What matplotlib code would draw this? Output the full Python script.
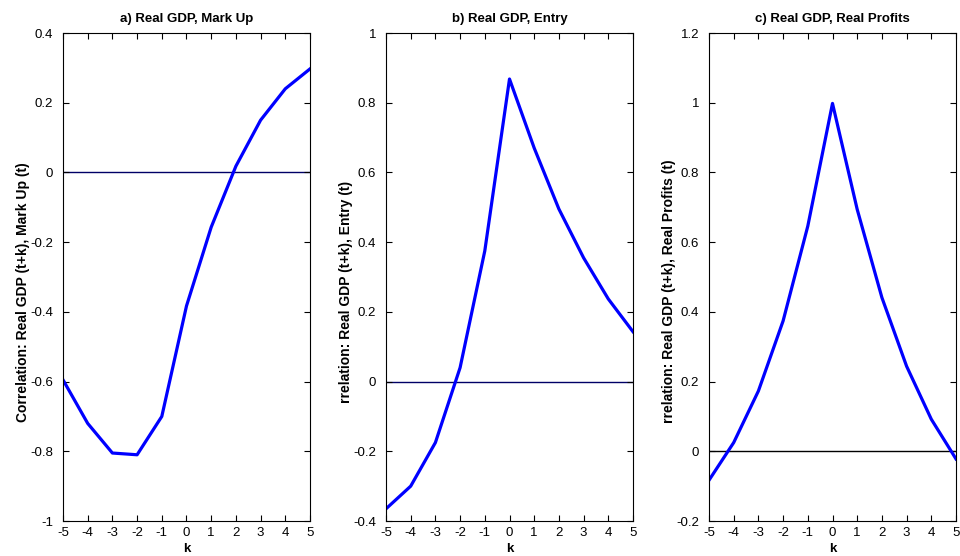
import matplotlib
matplotlib.use("Agg")
import matplotlib.pyplot as plt
import numpy as np
from matplotlib.ticker import FuncFormatter

plt.rcParams["font.family"] = ["Liberation Sans", "DejaVu Sans"]
plt.rcParams["axes.unicode_minus"] = False

k = [-5, -4, -3, -2, -1, 0, 1, 2, 3, 4, 5]
markup = [-0.595, -0.72, -0.805, -0.81, -0.70, -0.383, -0.157, 0.018, 0.15, 0.24, 0.297]
entry = [-0.365, -0.30, -0.175, 0.04, 0.375, 0.868, 0.67, 0.495, 0.355, 0.237, 0.143]
profits = [-0.083, 0.025, 0.173, 0.374, 0.646, 0.998, 0.694, 0.441, 0.244, 0.092, -0.022]

titles = ["a) Real GDP, Mark Up", "b) Real GDP, Entry", "c) Real GDP, Real Profits"]
ylabels = [
    "Correlation: Real GDP (t+k), Mark Up (t)",
    "rrelation: Real GDP (t+k), Entry (t)",
    "rrelation: Real GDP (t+k), Real Profits (t)",
]
ylims = [(-1.0, 0.4), (-0.4, 1.0), (-0.2, 1.2)]
zero_colors = ["#000066", "#000066", "black"]
series = [markup, entry, profits]
lefts = [63, 386, 709]


def fmt(v, pos):
    s = f"{v:.1f}"
    if s.endswith(".0"):
        s = s[:-2]
    if s == "-0":
        s = "0"
    return s


fig = plt.figure(figsize=(9.6, 5.56), dpi=100)
for i in range(3):
    ax = fig.add_axes([lefts[i] / 960, 35 / 556, 247 / 960, 488 / 556])
    ax.axhline(0, color=zero_colors[i], linewidth=1.0, zorder=1)
    ax.plot(k, series[i], color="#0000ff", linewidth=2.3, zorder=2)
    ax.set_xlim(-5, 5)
    ax.set_ylim(*ylims[i])
    ax.set_xticks(np.arange(-5, 6, 1))
    lo, hi = ylims[i]
    ax.set_yticks(np.round(np.arange(lo, hi + 0.01, 0.2), 1))
    ax.yaxis.set_major_formatter(FuncFormatter(fmt))
    ax.tick_params(direction="in", top=True, right=True, length=4, labelsize=9.5)
    ax.tick_params(axis="y", pad=7)
    ax.tick_params(axis="x", pad=4)
    ax.set_title(titles[i], fontsize=9.5, fontweight="bold", pad=8)
    ax.set_xlabel("k", fontsize=9.5, fontweight="bold", labelpad=3)
    ax.set_ylabel(ylabels[i], fontsize=10, fontweight="bold")
    ax.yaxis.set_label_coords(-0.135, 0.47)
    for sp in ax.spines.values():
        sp.set_linewidth(0.8)

fig.savefig("out.png", dpi=100)
